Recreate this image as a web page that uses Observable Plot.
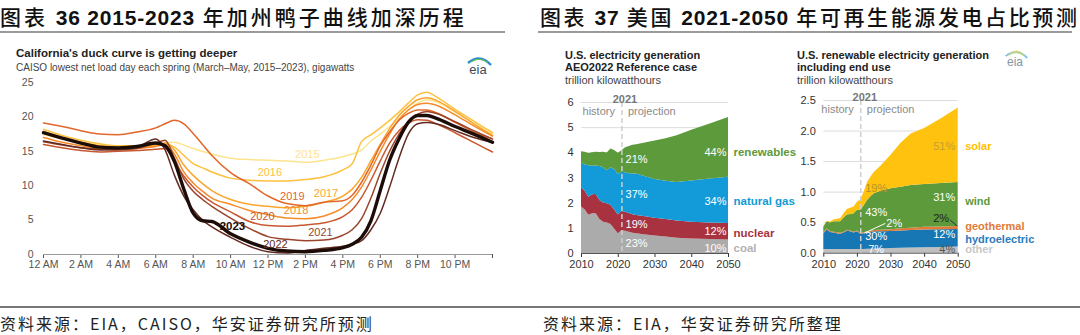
<!DOCTYPE html>
<html><head><meta charset="utf-8">
<script src="https://cdn.jsdelivr.net/npm/d3@7"></script>
<script src="https://cdn.jsdelivr.net/npm/@observablehq/plot@0.6"></script>
<style>
body{margin:0;background:#fff;width:1080px;height:335px;position:relative;overflow:hidden;font-family:"Liberation Sans",Arial,sans-serif;}
.abs{position:absolute;}
.hdr{font-family:"Noto Sans CJK SC",sans-serif;font-size:21px;font-weight:500;color:#111;letter-spacing:3px;white-space:nowrap;line-height:28px;top:2px;}
.hdr b{font-family:"Liberation Sans",Arial,sans-serif;font-weight:700;letter-spacing:0.8px}
.rule{background:#9a9a9a;height:2px;top:31px;}
.foot{font-family:"Noto Sans CJK SC",sans-serif;font-size:16px;color:#222;top:313px;line-height:20px;white-space:nowrap;letter-spacing:2px}
.ct{font-size:11px;font-weight:700;color:#222;line-height:12.5px;white-space:nowrap}
.cs{font-weight:400;color:#444}
.plot{position:absolute}
.plot svg{overflow:visible}
</style></head><body>
<div class="abs hdr" style="left:0">图表 <b>36 2015-2023</b> 年加州鸭子曲线加深历程</div>
<div class="abs hdr" style="left:540px;letter-spacing:2.6px">图表 <b>37</b> 美国 <b>2021-2050</b> 年可再生能源发电占比预测</div>
<div class="abs rule" style="left:0;width:505px"></div>
<div class="abs rule" style="left:538px;width:534px"></div>
<div class="abs" style="left:0;top:306px;width:1080px;height:1.5px;background:#777"></div>
<div class="abs foot" style="left:0">资料来源：EIA，CAISO，华安证券研究所预测</div>
<div class="abs foot" style="left:543px">资料来源：EIA，华安证券研究所整理</div>

<div class="abs" style="left:16px;top:47px;font-size:11.5px;font-weight:700;color:#222;white-space:nowrap">California's duck curve is getting deeper</div>
<div class="abs" style="left:16px;top:62px;font-size:10px;color:#444;white-space:nowrap">CAISO lowest net load day each spring (March–May, 2015–2023), gigawatts</div>
<div class="abs ct" style="left:565px;top:48.5px">U.S. electricity generation<br>AEO2022 Reference case<br><span class="cs">trillion kilowatthours</span></div>
<div class="abs ct" style="left:797px;top:48.5px">U.S. renewable electricity generation<br>including end use<br><span class="cs">trillion kilowatthours</span></div>

<svg class="abs" style="left:462px;top:54px" width="32" height="22" viewBox="0 0 32 22">
 <path d="M6 9 Q18 -1 29 11" stroke="#2b8fcf" stroke-width="2.4" fill="none"/>
 <path d="M9 8 Q18 2 26 9" stroke="#7cc242" stroke-width="1" fill="none"/>
 <text x="16" y="20" text-anchor="middle" font-size="13" font-family="Liberation Sans,Arial" fill="#3a4b5c">eia</text>
</svg>
<svg class="abs" style="left:1000px;top:47px" width="30" height="22" viewBox="0 0 32 22">
 <path d="M6 9 Q18 -1 29 11" stroke="#7fbfe6" stroke-width="2" fill="none"/>
 <path d="M9 8 Q18 2 26 9" stroke="#b9dc8a" stroke-width="1.2" fill="none"/>
 <path d="M11 6 Q18 1 24 6" stroke="#f5d66b" stroke-width="1" fill="none"/>
 <text x="16" y="20" text-anchor="middle" font-size="13" font-family="Liberation Sans,Arial" fill="#8a96a3">eia</text>
</svg>

<div id="duck" class="plot" style="left:0;top:75px"></div>
<div id="gen" class="plot" style="left:540px;top:88px"></div>
<div id="ren" class="plot" style="left:790px;top:88px"></div>

<script>
// ---------- Left chart data: CAISO net load (GW) ----------
const duckHours = [0,1,2,3,4,5,6,6.5,7,7.5,8,8.5,9,10,11,12,13,14,15,16,16.5,17,17.5,18,18.5,19,19.5,20,20.5,21,22,23,24];
const duckYears = [2015,2016,2017,2018,2019,2020,2021,2022,2023];
const net2015 = [17.4,16.8,16.3,15.9,15.6,15.6,15.9,16.2,16.3,15.9,15.4,15.0,14.6,14.0,13.8,13.7,13.6,13.4,13.7,14.2,14.6,15.2,16.5,17.5,18.6,19.8,21.0,22.0,22.5,22.2,20.7,19.1,17.5];
const net2016 = [18.2,17.3,16.6,16.1,15.8,15.8,15.9,16.1,15.6,14.4,13.2,12.6,12.0,11.1,10.8,10.7,10.7,10.9,11.3,12.3,13.2,16.4,17.4,18.4,19.5,20.7,22.0,23.2,23.6,22.9,21.1,19.4,17.7];
const net2017 = [17.9,17.0,16.3,15.8,15.5,15.5,15.8,16.2,15.2,13.0,11.5,10.3,9.3,8.0,7.3,7.0,6.8,7.0,7.6,8.5,9.5,11.2,13.6,16.0,18.3,20.2,21.5,22.5,22.8,22.4,20.8,19.0,17.3];
const net2018 = [17.0,16.3,15.8,15.4,15.3,15.4,15.7,16.0,14.6,12.0,10.4,9.2,8.2,7.3,6.4,5.8,5.3,5.2,5.6,6.8,8.0,9.8,12.3,15.0,17.5,19.6,21.0,21.8,22.0,21.7,20.3,18.7,17.2];
const net2019 = [19.1,18.6,18.0,17.5,17.4,17.8,18.4,19.0,19.5,19.0,17.6,16.0,14.4,11.9,10.3,8.5,7.4,7.1,7.6,7.8,8.6,10.5,13.0,15.8,17.8,19.5,20.5,21.0,21.0,20.6,19.2,17.8,16.8];
const net2020 = [16.0,15.5,15.1,14.9,15.0,15.1,15.3,15.4,13.5,11.4,9.8,8.6,7.6,6.2,4.8,4.2,4.1,4.3,4.6,5.5,6.5,8.3,10.8,13.6,16.2,18.0,19.1,19.6,19.5,19.0,17.7,16.3,14.9];
const net2021 = [16.4,15.9,15.5,15.3,15.2,15.4,16.2,16.6,14.0,11.0,9.2,8.0,7.0,5.3,3.8,2.6,2.2,2.0,2.1,2.8,3.6,5.2,8.2,11.8,15.0,17.5,19.3,20.4,20.8,20.5,19.3,18.0,16.8];
const net2022 = [16.5,16.0,15.5,15.2,15.3,15.6,16.8,15.2,11.5,8.5,6.5,5.0,4.0,2.5,1.2,0.4,0.2,0.6,0.9,1.2,1.5,2.0,3.6,6.0,9.8,14.0,17.5,19.0,19.2,19.0,18.0,17.0,16.3];
const net2023 = [17.7,16.9,16.2,15.6,15.5,15.7,16.2,15.8,13.5,9.5,6.0,4.9,4.8,3.0,1.8,0.9,0.5,0.4,0.6,1.0,1.5,2.5,4.9,9.3,13.7,16.8,19.2,20.2,20.2,19.8,18.6,17.5,16.3];
const duckLabelHour = [14.1,12.1,15.1,13.5,13.3,11.7,14.8,12.4,10.1];
const hourTicks = [0,2,4,6,8,10,12,14,16,18,20,22,24];

// ---------- Middle chart data: US generation (trillion kWh) ----------
const years = [2010,2011,2012,2013,2014,2015,2016,2017,2018,2019,2020,2021,2022,2023,2024,2025,2027,2030,2033,2036,2040,2045,2050];
const genSeries = ["coal","nuclear","natural gas","renewables"];
const coal       = [1.85,1.73,1.52,1.58,1.58,1.35,1.24,1.21,1.15,0.97,0.78,0.90,0.88,0.84,0.80,0.78,0.75,0.70,0.66,0.61,0.58,0.56,0.54];
const nuclear    = [0.76,0.74,0.72,0.75,0.76,0.76,0.77,0.77,0.77,0.77,0.75,0.77,0.76,0.75,0.74,0.73,0.72,0.70,0.69,0.68,0.66,0.65,0.65];
const naturalGas = [1.01,1.05,1.25,1.14,1.14,1.35,1.40,1.31,1.49,1.60,1.62,1.56,1.57,1.58,1.62,1.65,1.60,1.54,1.52,1.53,1.64,1.75,1.84];
const renewables = [0.42,0.50,0.48,0.53,0.54,0.55,0.61,0.70,0.74,0.75,0.83,0.85,0.99,1.08,1.14,1.16,1.31,1.53,1.69,1.86,2.02,2.19,2.37];
const genShare2021 = ["23%","19%","37%","21%"];
const genShare2050 = ["10%","12%","34%","44%"];
const genTicksX = [2010,2020,2030,2040,2050];

// ---------- Right chart data: US renewable generation (trillion kWh) ----------
const renSeries = ["other","hydroelectric","geothermal","wind","solar"];
const other      = [0.06,0.06,0.06,0.06,0.06,0.06,0.06,0.06,0.06,0.06,0.06,0.06,0.06,0.065,0.065,0.07,0.07,0.075,0.08,0.085,0.09,0.095,0.10];
const hydro      = [0.26,0.32,0.28,0.27,0.26,0.25,0.27,0.30,0.29,0.27,0.29,0.25,0.26,0.27,0.27,0.28,0.28,0.28,0.285,0.285,0.29,0.29,0.29];
const geothermal = [0.015,0.015,0.015,0.015,0.015,0.015,0.015,0.015,0.015,0.015,0.015,0.015,0.016,0.018,0.02,0.022,0.025,0.03,0.035,0.04,0.043,0.046,0.048];
const wind       = [0.095,0.12,0.14,0.17,0.18,0.19,0.23,0.25,0.27,0.30,0.34,0.38,0.44,0.51,0.57,0.60,0.64,0.67,0.68,0.70,0.70,0.71,0.72];
const solar      = [0.004,0.008,0.015,0.03,0.04,0.05,0.07,0.09,0.10,0.11,0.13,0.165,0.22,0.29,0.32,0.35,0.41,0.55,0.72,0.84,0.92,1.06,1.22];
const renShare2021 = ["7%","30%","2%","43%","19%"];
const renShare2050 = ["4%","12%","2%","31%","51%"];

// ---------- styles ----------
const FONT = "Liberation Sans, Arial, sans-serif";
const duckColors = ["#fde48d","#fdc13f","#f9a62e","#f58b2a","#e2672a","#c8572f","#9a452b","#632a20","#1c0d09"];
const genColors = ["#ababab","#a8323f","#129bd8","#5d9a3c"];
const genLabelColors = ["#b3b3b3","#a8323f","#129bd8","#5d9a3c"];
const renColors = ["#bfbfbf","#1777b4","#e07b39","#5d9a3c","#ffc20e"];
const renLabelColors = ["#c8c8c8","#2a7bbd","#e07b39","#5d9a3c","#ffc000"];

function interp(xs, ys, x) {
  for (let i = 1; i < xs.length; i++) if (x <= xs[i]) {
    const t = (x - xs[i-1]) / (xs[i] - xs[i-1]);
    return ys[i-1] + t * (ys[i] - ys[i-1]);
  }
  return ys[ys.length-1];
}
function bands(arrs, names, idx) {
  let acc = 0;
  return arrs.map((a, k) => { const y1 = acc; acc += a[idx]; return {series: names[k], k, y1, y2: acc, mid: (y1 + acc) / 2}; });
}
const fmtHour = h => h === 24 ? "" : h === 0 ? "12 AM" : h < 12 ? `${h} AM` : h === 12 ? "12 PM" : `${h-12} PM`;

// ---------- Left chart ----------
const duckSeries = [net2015,net2016,net2017,net2018,net2019,net2020,net2021,net2022,net2023];
const duckTable = duckYears.flatMap((yr, i) => duckHours.map((h, j) => ({year: yr, hour: h, gw: duckSeries[i][j]})));
const duckLabels = duckYears.map((yr, i) => ({year: yr, hour: duckLabelHour[i], gw: interp(duckHours, duckSeries[i], duckLabelHour[i])}));

const duck = Plot.plot({
  width: 500, height: 200,
  marginLeft: 43, marginRight: 8, marginTop: 7, marginBottom: 21,
  style: {fontFamily: FONT, fontSize: "10.5px", color: "#555", background: "transparent", overflow: "visible"},
  x: {domain: [0, 24], ticks: hourTicks, tickFormat: fmtHour, tickSize: 4, tickPadding: 2, label: null},
  y: {domain: [0, 25], ticks: [0,5,10,15,20,25], tickFormat: "d", tickSize: 0, tickPadding: 10, label: null},
  color: {domain: duckYears, range: duckColors},
  marks: [
    Plot.ruleY([0], {stroke: "#999"}),
    Plot.line(duckTable.filter(d => d.year !== 2023), {x: "hour", y: "gw", z: "year", stroke: "year", strokeWidth: 1.5, curve: "monotone-x"}),
    Plot.line(duckTable.filter(d => d.year === 2023), {x: "hour", y: "gw", stroke: duckColors[8], strokeWidth: 3.4, curve: "monotone-x"}),
    Plot.text(duckLabels.filter(d => d.year !== 2023), {x: "hour", y: "gw", text: d => String(d.year), fill: "year", dy: -8, fontSize: 11}),
    Plot.text(duckLabels.filter(d => d.year === 2023), {x: "hour", y: "gw", text: d => String(d.year), fill: duckColors[8], dy: -8, fontSize: 11.5, fontWeight: "bold"})
  ]
});
document.getElementById("duck").append(duck);

// ---------- Middle chart ----------
const genArrs = [coal, nuclear, naturalGas, renewables];
const genTable = genSeries.flatMap((s, k) => years.map((y, i) => ({series: s, year: y, value: genArrs[k][i]})));
const iL = years.indexOf(2025), iR = years.indexOf(2050);
const genLeft = bands(genArrs, genSeries, iL).map((b, k) => ({...b, year: 2025, text: genShare2021[k]}));
const genRight = bands(genArrs, genSeries, iR).map((b, k) => ({...b, year: 2050, text: genShare2050[k]}));
const genRightDy = [1.5, 0, 1, 5];
const genSideDy = [1.5, 1.5, 1, 5];

const gen = Plot.plot({
  width: 250, height: 190,
  marginLeft: 41, marginRight: 62, marginTop: 14, marginBottom: 25,
  style: {fontFamily: FONT, fontSize: "11px", color: "#333", background: "transparent", overflow: "visible"},
  x: {domain: [2010, 2050], ticks: genTicksX, tickFormat: "d", tickSize: 4, tickPadding: 3, label: null},
  y: {domain: [0, 6], ticks: [0,1,2,3,4,5,6], tickFormat: "d", tickSize: 0, tickPadding: 8, label: null},
  color: {domain: genSeries, range: genColors},
  marks: [
    Plot.ruleY([1,2,3,4,5,6], {stroke: "#dcdcdc"}),
    Plot.areaY(genTable, {x: "year", y: "value", fill: "series", order: genSeries}),
    Plot.ruleY([0], {stroke: "#555"}),
    Plot.ruleX([2021], {stroke: "#cfcfcf", strokeWidth: 1.5, strokeDasharray: "5,3"}),
    Plot.text([2021], {x: d => d, frameAnchor: "top", dy: -7, dx: 3, text: d => String(d), fontWeight: "bold", fill: "#777"}),
    Plot.text([2021], {x: d => d, frameAnchor: "top", dy: 5, dx: -7, textAnchor: "end", text: () => "history", fill: "#8a8a8a"}),
    Plot.text([2021], {x: d => d, frameAnchor: "top", dy: 5, dx: 6, textAnchor: "start", text: () => "projection", fill: "#8a8a8a"}),
    Plot.text(genLeft, {x: "year", y: "mid", text: "text", fill: "white", fontSize: 11}),
    ...genRight.map((b, k) => Plot.text([b], {x: "year", y: "mid", text: "text", fill: "white", fontSize: 11, textAnchor: "end", dx: -2, dy: genRightDy[k]})),
    ...genRight.map((b, k) => Plot.text([b], {x: "year", y: "mid", text: "series", fill: genLabelColors[k], fontSize: 11.5, fontWeight: "bold", textAnchor: "start", dx: 5, dy: genSideDy[k]}))
  ]
});
document.getElementById("gen").append(gen);

// ---------- Right chart ----------
const renArrs = [other, hydro, geothermal, wind, solar];
const renTable = renSeries.flatMap((s, k) => years.map((y, i) => ({series: s, year: y, value: renArrs[k][i]})));
const rL = bands(renArrs, renSeries, iL).map((b, k) => ({...b, year: 2025, text: renShare2021[k]}));
const rR = bands(renArrs, renSeries, iR).map((b, k) => ({...b, year: 2050, text: renShare2050[k]}));
const i22 = years.indexOf(2022);
const geo22 = bands(renArrs, renSeries, i22)[2];
const geoL = {x1: 2022, y1: geo22.mid, x2: 2028.3, y2: geo22.mid + 0.16, text: renShare2021[2]};
const geoR = {x1: 2049.7, y1: rR[2].mid + 0.03, x2: 2047.6, y2: rR[2].mid + 0.13, text: renShare2050[2]};
const renLeftDy = [-1.5, -3.5, 0, 0, 5.5];
const renLeftFill = ["white","white","white","white","#b5932c"];
const renRightDy = [-1, -4, 0, -7, 1.5];
const renRightFill = ["#555","white","#222","white","#c4a032"];
const renSideDy = [-0.5, 1.5, -1, -3, 1.5];

const ren = Plot.plot({
  width: 290, height: 190,
  marginLeft: 33.3, marginRight: 122.3, marginTop: 12, marginBottom: 25.3,
  style: {fontFamily: FONT, fontSize: "11px", color: "#333", background: "transparent", overflow: "visible"},
  x: {domain: [2010, 2050], ticks: genTicksX, tickFormat: "d", tickSize: 4, tickPadding: 3, label: null},
  y: {domain: [0, 2.5], ticks: [0,0.5,1,1.5,2,2.5], tickFormat: ".1f", tickSize: 0, tickPadding: 8, label: null},
  color: {domain: renSeries, range: renColors},
  marks: [
    Plot.ruleY([0.5,1,1.5,2,2.5], {stroke: "#dcdcdc"}),
    Plot.areaY(renTable, {x: "year", y: "value", fill: "series", order: renSeries}),
    Plot.ruleY([0], {stroke: "#555"}),
    Plot.ruleX([2021], {stroke: "#cfcfcf", strokeWidth: 1.5, strokeDasharray: "5,3"}),
    Plot.text([2021], {x: d => d, frameAnchor: "top", dy: -7, dx: 4, text: d => String(d), fontWeight: "bold", fill: "#777"}),
    Plot.text([2021], {x: d => d, frameAnchor: "top", dy: 5, dx: -7, textAnchor: "end", text: () => "history", fill: "#8a8a8a"}),
    Plot.text([2021], {x: d => d, frameAnchor: "top", dy: 5, dx: 6, textAnchor: "start", text: () => "projection", fill: "#8a8a8a"}),
    ...rL.filter(b => b.series !== "geothermal").map(b => Plot.text([b], {x: "year", y: "mid", text: "text", fill: renLeftFill[b.k], fontSize: 11, dx: 2, dy: renLeftDy[b.k]})),
    Plot.link([geoL], {x1: "x1", y1: "y1", x2: "x2", y2: "y2", stroke: "white", strokeWidth: 1}),
    Plot.text([geoL], {x: "x2", y: "y2", text: "text", fill: "white", fontSize: 11, textAnchor: "start", dx: 1}),
    ...rR.filter(b => b.series !== "geothermal").map(b => Plot.text([b], {x: "year", y: "mid", text: "text", fill: renRightFill[b.k], fontSize: 11, textAnchor: "end", dx: -3, dy: renRightDy[b.k]})),
    Plot.link([geoR], {x1: "x1", y1: "y1", x2: "x2", y2: "y2", stroke: "#333", strokeWidth: 1}),
    Plot.text([geoR], {x: "x2", y: "y2", text: "text", fill: "#222", fontSize: 11, textAnchor: "end", dx: -1, dy: -2}),
    ...rR.map(b => Plot.text([b], {x: "year", y: "mid", text: "series", fill: renLabelColors[b.k], fontSize: 11, fontWeight: "bold", textAnchor: "start", dx: 7, dy: renSideDy[b.k]}))
  ]
});
document.getElementById("ren").append(ren);
</script>
</body></html>
